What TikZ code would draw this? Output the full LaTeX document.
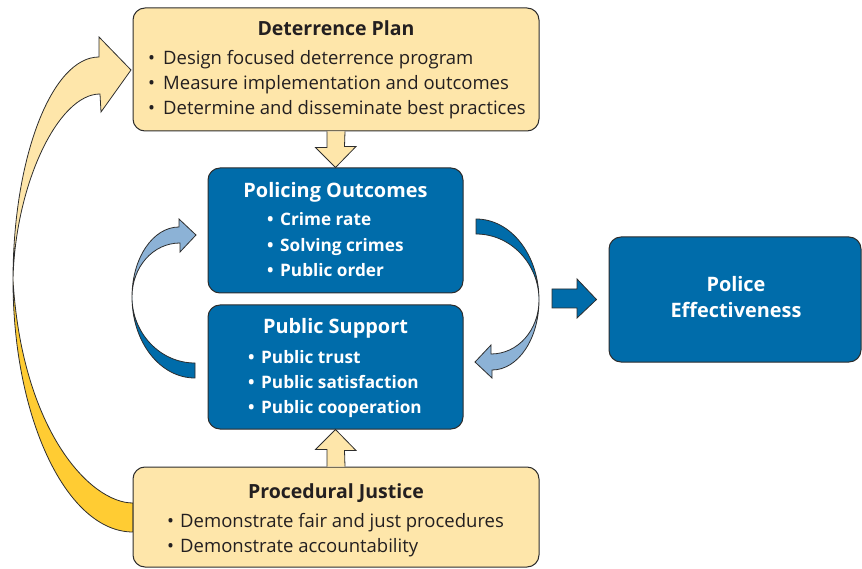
\documentclass[tikz,border=0pt]{standalone}
\usepackage{fontspec}
\setmainfont{Open Sans}
\usetikzlibrary{calc}
\definecolor{ylight}{RGB}{254,230,170}
\definecolor{ygold}{RGB}{255,204,51}
\definecolor{bdark}{RGB}{0,108,170}
\definecolor{blight}{RGB}{140,178,214}
\definecolor{edge}{RGB}{45,45,45}
\definecolor{ink}{RGB}{35,31,32}
\tikzset{
  ybox/.style={draw=edge, line width=1pt, fill=ylight, rounded corners=12pt, inner sep=0pt},
  bbox/.style={draw=edge, line width=1pt, fill=bdark, rounded corners=12pt, inner sep=0pt},
  yarrow/.style={draw=edge, line width=0.8pt, fill=ylight, line join=miter},
  garrow/.style={draw=edge, line width=0.8pt, fill=ygold},
  barrow/.style={draw=edge, line width=0.8pt, fill=bdark},
  larrow/.style={draw=edge, line width=0.8pt, fill=blight},
  ytitle/.style={inner sep=0pt, anchor=base, text=ink, font=\fontsize{19.5}{20}\selectfont\bfseries},
  ytext/.style={inner sep=0pt, anchor=base west, text=ink, font=\fontsize{18.5}{20}\selectfont},
  btitle/.style={inner sep=0pt, anchor=base, text=white, font=\fontsize{19.9}{20}\selectfont\bfseries},
  btext/.style={inner sep=0pt, anchor=base west, text=white, font=\fontsize{17.2}{20}\selectfont\bfseries},
}
\newcommand{\bul}{\makebox[15pt][l]{\textbullet}}
\newcommand{\bulb}{\makebox[13pt][l]{\textbullet}}
\begin{document}
\begin{tikzpicture}[x=1pt,y=-1pt]
\useasboundingbox (0,0) rectangle (862,569);

% big yellow curved arrow
\coordinate (yt) at (13,280);
\draw[garrow] (yt) .. controls (13,419) and (67,532) .. (133,532) -- (133,503)
  .. controls (90,503) and (22,430) .. (yt) -- cycle;
\draw[yarrow] (yt) .. controls (13,157) and (52,57) .. (99,57) -- (99,37) -- (131,70)
  -- (101,112) -- (100,94) .. controls (58,94) and (15,185) .. (yt) -- cycle;

% left curved blue arrow
\coordinate (lt) at (132,297);
\draw[barrow] (lt) .. controls (132,342) and (160,378) .. (195,378) -- (195,363)
  .. controls (160,363) and (132,333) .. (lt) -- cycle;
\draw[larrow] (lt) .. controls (132,258) and (153,227) .. (179,227) -- (179,219) -- (196,235)
  -- (180,252) -- (180,243) .. controls (153,243) and (132,267) .. (lt) -- cycle;

% right curved blue arrow (point-symmetric copy)
\begin{scope}[rotate around={180:(335.5,298.5)}]
\coordinate (rt) at (132,297);
\draw[barrow] (rt) .. controls (132,342) and (160,378) .. (195,378) -- (195,363)
  .. controls (160,363) and (132,333) .. (rt) -- cycle;
\draw[larrow] (rt) .. controls (132,258) and (153,227) .. (179,227) -- (179,219) -- (196,235)
  -- (180,252) -- (180,243) .. controls (153,243) and (132,267) .. (rt) -- cycle;
\end{scope}

% boxes
\node[ybox, minimum width=406pt, minimum height=123pt] (det) at (336,69.5) {};
\node[bbox, minimum width=255pt, minimum height=125pt] (po) at (335.5,230.5) {};
\node[bbox, minimum width=255pt, minimum height=124pt] (ps) at (335.5,367) {};
\node[ybox, minimum width=406pt, minimum height=100pt] (pj) at (336,517) {};
\node[bbox, minimum width=252pt, minimum height=125pt] (pe) at (735,299.5) {};

% straight block arrows
\draw[yarrow] ([xshift=-9pt]det.south) -- ++(0,16) -- ++(-11.5,0) -- (po.north)
  -- ++(20.5,-21) -- ++(-11.5,0) -- ([xshift=9pt]det.south);
\draw[yarrow] ([xshift=-9pt]pj.north) -- ++(0,-17) -- ++(-11.5,0) -- (ps.south)
  -- ++(20.5,21) -- ++(-11.5,0) -- ([xshift=9pt]pj.north);
\coordinate (rs) at (552,298.5);
\coordinate (rtip) at ([xshift=-12pt]pe.west);
\draw[barrow] ($(rs)+(0,-9.5)$) -- ($(rs)+(25,-9.5)$) -- ($(rs)+(25,-19.5)$) -- (rtip)
  -- ($(rs)+(25,19.5)$) -- ($(rs)+(25,9.5)$) -- ($(rs)+(0,9.5)$) -- cycle;

% texts: Deterrence Plan
\node[ytitle] (dt) at (336,36) {Deterrence Plan};
\node[ytext] (d1) at (148,65) {\bul Design focused deterrence program};
\node[ytext] (d2) at (148,90) {\bul Measure implementation and outcomes};
\node[ytext] (d3) at (148,115) {\bul Determine and disseminate best practices};

% Policing Outcomes
\node[btitle] (pot) at (335.5,198) {Policing Outcomes};
\node[btext] (po1) at (267,226) {\bulb Crime rate};
\node[btext] (po2) at (267,252) {\bulb Solving crimes};
\node[btext] (po3) at (267,277) {\bulb Public order};

% Public Support
\node[btitle] (pst) at (335.5,334) {Public Support};
\node[btext] (ps1) at (248,363) {\bulb Public trust};
\node[btext] (ps2) at (248,388) {\bulb Public satisfaction};
\node[btext] (ps3) at (248,413) {\bulb Public cooperation};

% Procedural Justice
\node[ytitle] (pjt) at (336,498) {Procedural Justice};
\node[ytext] (pj1) at (167,527) {\bulb Demonstrate fair and just procedures};
\node[ytext] (pj2) at (167,552) {\bulb Demonstrate accountability};

% Police Effectiveness
\node[btitle] (pe1) at (736,291) {Police};
\node[btitle] (pe2) at (736,317) {Effectiveness};
\end{tikzpicture}
\end{document}
